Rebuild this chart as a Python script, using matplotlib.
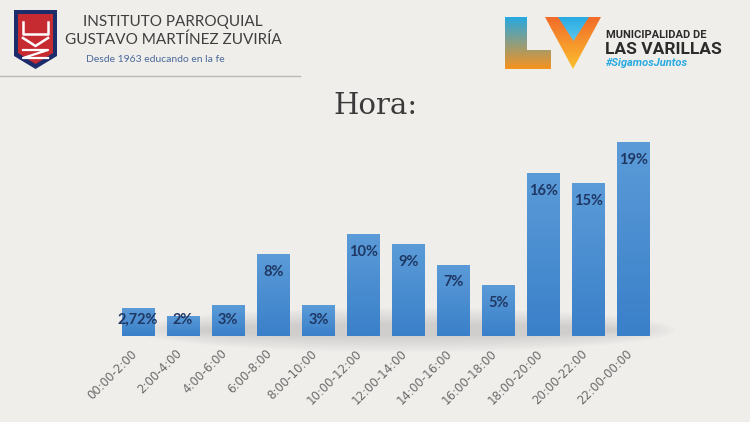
import numpy as np
import matplotlib.pyplot as plt
import matplotlib.transforms as mtransforms
from matplotlib.patches import Polygon, Ellipse
from matplotlib.colors import LinearSegmentedColormap

# Data
franjas = ['00:00-2:00', '2:00-4:00', '4:00-6:00', '6:00-8:00', '8:00-10:00',
           '10:00-12:00', '12:00-14:00', '14:00-16:00', '16:00-18:00',
           '18:00-20:00', '20:00-22:00', '22:00-00:00']
valores = [2.72, 2, 3, 8, 3, 10, 9, 7, 5, 16, 15, 19]
etiquetas = ['2,72%', '2%', '3%', '8%', '3%', '10%', '9%', '7%', '5%',
             '16%', '15%', '19%']

bg = '#efeeeb'
fig = plt.figure(figsize=(7.5, 4.22), dpi=100)
fig.patch.set_facecolor(bg)

# ---------- overlay in pixel coords for header / logos ----------
deco = fig.add_axes([0, 0, 1, 1])
deco.set_xlim(0, 750)
deco.set_ylim(422, 0)
deco.axis('off')
deco.set_zorder(0)


def gradient_patch(ax, poly, c1, c2):
    # fill polygon with a vertical gradient using a clipped image
    cmap = LinearSegmentedColormap.from_list('g', [c1, c2])
    xs = [p[0] for p in poly]
    ys = [p[1] for p in poly]
    grad = np.linspace(0, 1, 100).reshape(-1, 1)
    im = ax.imshow(grad, cmap=cmap, aspect='auto',
                   extent=[min(xs), max(xs), max(ys), min(ys)], origin='upper')
    pg = Polygon(poly, closed=True, facecolor='none', edgecolor='none')
    ax.add_patch(pg)
    im.set_clip_path(pg)


# left shield
deco.add_patch(Polygon([(14, 10), (57, 10), (57, 56), (35.5, 69), (14, 56)],
                       closed=True, facecolor='#1d2c6b', edgecolor='none'))
deco.add_patch(Polygon([(18, 14), (53, 14), (53, 53), (35.5, 64), (18, 53)],
                       closed=True, facecolor='#c62b32', edgecolor='none'))
deco.plot([23, 23, 48, 48], [22, 34, 34, 22], color='white', lw=1.8)
deco.plot([23, 35.5, 48], [38, 46, 38], color='white', lw=1.8)
deco.plot([23, 48, 23, 48], [50, 50, 58, 58], color='white', lw=1.6)
deco.text(173, 22, 'INSTITUTO PARROQUIAL', ha='center', va='center',
          fontsize=11, color='#3f3f3f', family='Lato')
deco.text(173, 40, 'GUSTAVO MARTÍNEZ ZUVIRÍA', ha='center', va='center',
          fontsize=11, color='#3f3f3f', family='Lato')
deco.text(155, 59, 'Desde 1963 educando en la fe', ha='center', va='center',
          fontsize=7.5, color='#4a6a9a', family='Lato')
deco.plot([0, 300], [76, 76], color='#b8b8b8', lw=1)

# right logo
gradient_patch(deco, [(505, 17), (527, 17), (527, 50), (551, 50), (551, 69), (505, 69)],
               '#27a9e1', '#f6921e')
gradient_patch(deco, [(545, 17), (601, 17), (573, 69)], '#f26b2a', '#fbc02d')
gradient_patch(deco, [(558, 17), (589, 17), (573.5, 41)], '#29abe2', '#5cc6ee')
deco.text(606, 35, 'MUNICIPALIDAD DE', ha='left', va='center', fontsize=8,
          fontweight='bold', color='#2b2b2b', family='Roboto')
deco.text(605, 49.5, 'LAS VARILLAS', ha='left', va='center', fontsize=12.5,
          fontweight='bold', color='#2b2b2b', family='Roboto')
deco.text(606, 63, '#SigamosJuntos', ha='left', va='center', fontsize=8,
          fontweight='bold', style='italic', color='#29abe2', family='Roboto')

# title
deco.text(375, 106, 'Hora:', ha='center', va='center', fontsize=21,
          color='#3a3a3a', family='DejaVu Serif')

# soft shadow behind bar bases
for k in range(10):
    deco.add_patch(Ellipse((405, 330), 540 - k * 12, 44 - k * 3.5,
                           facecolor='#8a8a8a', alpha=0.03, edgecolor='none'))

# ---------- bar chart ----------
ax = fig.add_axes([0.154, 0.2038, 0.7213, 0.4716])
ax.set_zorder(1)
ax.patch.set_alpha(0)
x = np.arange(len(franjas))

bars = ax.bar(x, valores, width=0.73, color='none', edgecolor='none')
cmap_bar = LinearSegmentedColormap.from_list('b', ['#5b9bd8', '#3a80c9'])
for b in bars:
    x0, w, h = b.get_x(), b.get_width(), b.get_height()
    grad = np.linspace(0, 1, 100).reshape(-1, 1)
    im = ax.imshow(grad, cmap=cmap_bar, aspect='auto',
                   extent=[x0, x0 + w, 0, h], origin='upper', zorder=2)
    im.set_clip_path(b)
ax.set_xlim(-0.5, len(franjas) - 0.5)
ax.set_ylim(0, 19.5)

# labels sit near the top inside the bar, but never below a minimum height
for xi, v, lab in zip(x, valores, etiquetas):
    ax.text(xi, max(v - 1.75, 1.55), lab, ha='center', va='center',
            fontsize=10.5, fontweight='bold', color='#1f3763', zorder=3,
            family='Lato')

ax.set_xticks(x)
ax.set_xticklabels(franjas, rotation=45, ha='right', rotation_mode='anchor',
                   fontsize=8.5, color='#6a6a6a')
ax.tick_params(axis='x', length=0, pad=8)
shift = mtransforms.ScaledTranslation(-8 / 100, 0, fig.dpi_scale_trans)
for t in ax.get_xticklabels():
    t.set_transform(t.get_transform() + shift)
ax.set_yticks([])
for s in ax.spines.values():
    s.set_visible(False)

fig.savefig('out.png', dpi=100, facecolor=bg)
